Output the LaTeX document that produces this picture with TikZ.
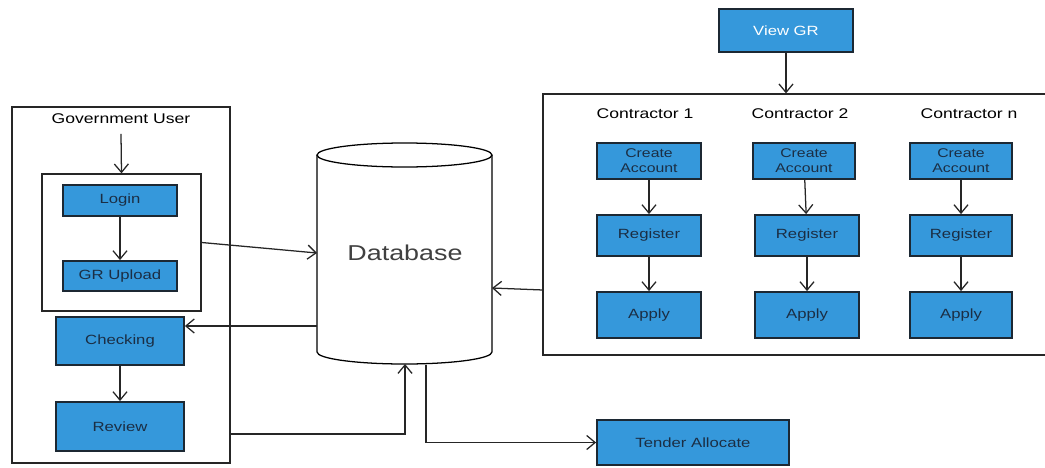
\documentclass[tikz,border=0pt]{standalone}
\usepackage{fontspec}
\setmainfont{Liberation Sans}[FakeStretch=1.25]
\usepackage{tikz}
\usetikzlibrary{arrows.meta}

\definecolor{boxblue}{HTML}{3598DB}
\definecolor{boxline}{HTML}{1C2833}
\definecolor{boxtext}{HTML}{1B2E44}
\newcommand{\pxu}{0.025cm}

\begin{document}
\begin{tikzpicture}[x=\pxu, y=-\pxu,
  box/.style={draw=boxline, line width=1.3pt, fill=boxblue, text=boxtext,
    font=\fontsize{9.5}{11}\selectfont, inner sep=0pt, align=center},
  frame/.style={draw=black!85, line width=0.9pt, inner sep=0pt},
  lbl/.style={font=\fontsize{10}{12}\selectfont},
  arr/.style={draw=black!85, line width=0.9pt, -{Straight Barb[length=6pt,width=10pt]}}
]
\useasboundingbox (0,0) rectangle (1045,467);

% ---- Government user side ----
\node[frame, minimum width=218*\pxu, minimum height=356*\pxu] (gov) at (121,285) {};
\node[lbl] (govlbl) at (121,119) {Government User};
\node[frame, minimum width=159*\pxu, minimum height=137*\pxu] (inner) at (121.5,242.5) {};
\node[box, minimum width=114*\pxu, minimum height=31*\pxu] (login) at (120,200.5) {Login};
\node[box, minimum width=114*\pxu, minimum height=30*\pxu] (upload) at (120,276) {GR Upload};
\node[box, minimum width=128*\pxu, minimum height=48*\pxu] (chk) at (120,341) {Checking};
\node[box, minimum width=128*\pxu, minimum height=49*\pxu] (rev) at (120,426.5) {Review};

\draw[arr] (govlbl.south) ++(0,5) -- (inner.north);
\draw[arr] (login) -- (upload);
\draw[arr] (chk) -- (rev);

% ---- Database ----
\draw[line width=0.9pt] (317,155) -- (317,352)
  arc[start angle=180, end angle=0, x radius=87.5, y radius=12] -- (492,155);
\draw[line width=0.9pt] (404.5,155) ellipse [x radius=87.5, y radius=12];
\node[font=\fontsize{15.3}{18}\selectfont, text=black!75] (db) at (405,253) {Database};

\coordinate (dbIn) at (317,253);     % from government user
\coordinate (dbOut) at (317,326);    % to checking
\coordinate (dbRight) at (492,288);  % from contractors
\coordinate (dbUp) at (405,364);     % from review
\coordinate (dbDown) at (426,365);   % to tender
\coordinate (govOut) at (230,434);
\coordinate (conOut) at (543,290);

% ---- Contractors ----
\node[box, minimum width=134*\pxu, minimum height=43*\pxu, text=white] (viewgr) at (786,30.5) {View GR};
\node[frame, minimum width=507*\pxu, minimum height=261*\pxu] (cframe) at (796.5,224.5) {};

\node[lbl] (conA) at (645,114) {Contractor 1};
\node[lbl] (conB) at (800,114) {Contractor 2};
\node[lbl] (conN) at (969,114) {Contractor n};

\node[box, minimum width=104*\pxu, minimum height=36*\pxu, font=\fontsize{9}{10.7}\selectfont] (createA) at (649,161) {Create\\Account};
\node[box, minimum width=102*\pxu, minimum height=36*\pxu, font=\fontsize{9}{10.7}\selectfont] (createB) at (804,161) {Create\\Account};
\node[box, minimum width=102*\pxu, minimum height=36*\pxu, font=\fontsize{9}{10.7}\selectfont] (createN) at (961,161) {Create\\Account};

\node[box, minimum width=104*\pxu, minimum height=41*\pxu] (regA) at (649,235.5) {Register};
\node[box, minimum width=104*\pxu, minimum height=41*\pxu] (regB) at (807,235.5) {Register};
\node[box, minimum width=102*\pxu, minimum height=41*\pxu] (regN) at (961,235.5) {Register};

\node[box, minimum width=104*\pxu, minimum height=46*\pxu] (applyA) at (649,315) {Apply};
\node[box, minimum width=104*\pxu, minimum height=46*\pxu] (applyB) at (807,315) {Apply};
\node[box, minimum width=102*\pxu, minimum height=46*\pxu] (applyN) at (961,315) {Apply};

\draw[arr] (createA) -- (regA);
\draw[arr] (createB) -- (regB);
\draw[arr] (createN) -- (regN);
\draw[arr] (regA) -- (applyA);
\draw[arr] (regB) -- (applyB);
\draw[arr] (regN) -- (applyN);

\draw[arr] (viewgr) -- (viewgr |- cframe.north);

% ---- Tender ----
\node[box, minimum width=192*\pxu, minimum height=45*\pxu] (tender) at (693,442.5) {Tender Allocate};

% ---- Links to and from the database ----
\draw[arr] (inner.east) -- (dbIn);
\draw[arr] (dbOut) -- (dbOut -| chk.east);
\draw[arr] (conOut) -- (dbRight);
\draw[arr] (govOut) -| (dbUp);
\draw[arr] (dbDown) |- (tender.west);

\end{tikzpicture}
\end{document}
